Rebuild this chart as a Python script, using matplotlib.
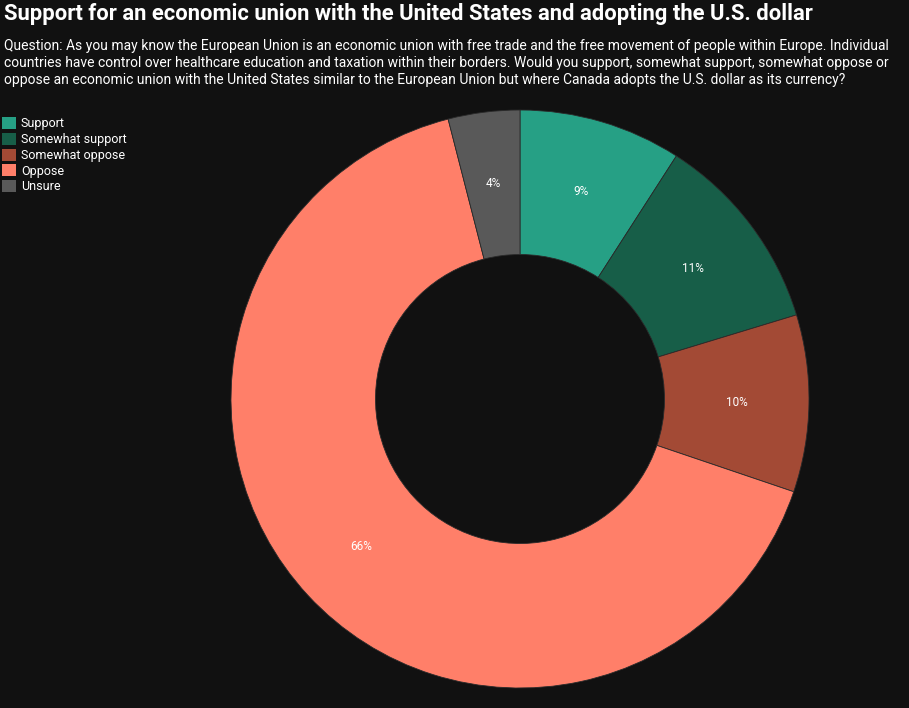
import matplotlib
matplotlib.use('Agg')
import matplotlib.pyplot as plt
import numpy as np
from matplotlib.patches import Patch

categories = ['Support', 'Somewhat support', 'Somewhat oppose', 'Oppose', 'Unsure']
values = [9.1, 11.2, 9.9, 65.8, 4.0]
labels = ['9%', '11%', '10%', '66%', '4%']
colors = ['#26a085', '#175e48', '#a34a35', '#ff7f69', '#595959']

title = 'Support for an economic union with the United States and adopting the U.S. dollar'
question = ('Question: As you may know the European Union is an economic union with free trade and the free movement of people within Europe. Individual\n'
            'countries have control over healthcare education and taxation within their borders. Would you support, somewhat support, somewhat oppose or\n'
            'oppose an economic union with the United States similar to the European Union but where Canada adopts the U.S. dollar as its currency?')

bg = '#111111'
W, H = 909, 708
fig = plt.figure(figsize=(W / 100, H / 100), dpi=100, facecolor=bg)

fig.text(4 / W, 1 - 3 / H, title, color='white', fontsize=15.8, fontweight='bold',
         family='Roboto', va='top', ha='left')
fig.text(4 / W, 1 - 39 / H, question, color='white', fontsize=10, family='Roboto',
         va='top', ha='left', linespacing=1.28)

cx, cy, r = 520, 399, 289
ax = fig.add_axes([(cx - r) / W, (H - cy - r) / H, 2 * r / W, 2 * r / H])
ax.set_facecolor(bg)
wedges, texts = ax.pie(values, colors=colors, startangle=90, counterclock=False,
                       radius=1, wedgeprops=dict(width=0.5, edgecolor='#2a2a2a', linewidth=0.6))
for w, lab in zip(wedges, labels):
    ang = np.deg2rad((w.theta1 + w.theta2) / 2)
    ax.text(0.75 * np.cos(ang), 0.75 * np.sin(ang), lab, color='white', fontsize=8.5,
            family='Roboto', ha='center', va='center')
ax.set_xlim(-1, 1)
ax.set_ylim(-1, 1)
ax.set_aspect('equal')
ax.axis('off')

handles = [Patch(facecolor=c, edgecolor='none') for c in colors]
leg = fig.legend(handles, categories, loc='upper left', bbox_to_anchor=(-3 / W, 1 - 112 / H),
                 frameon=False, labelcolor='white', handlelength=1.1,
                 handleheight=1.1, handletextpad=0.4, labelspacing=0.2, borderaxespad=0,
                 prop={'family': 'Roboto', 'size': 9})

fig.savefig('out.png', dpi=100, facecolor=bg)
